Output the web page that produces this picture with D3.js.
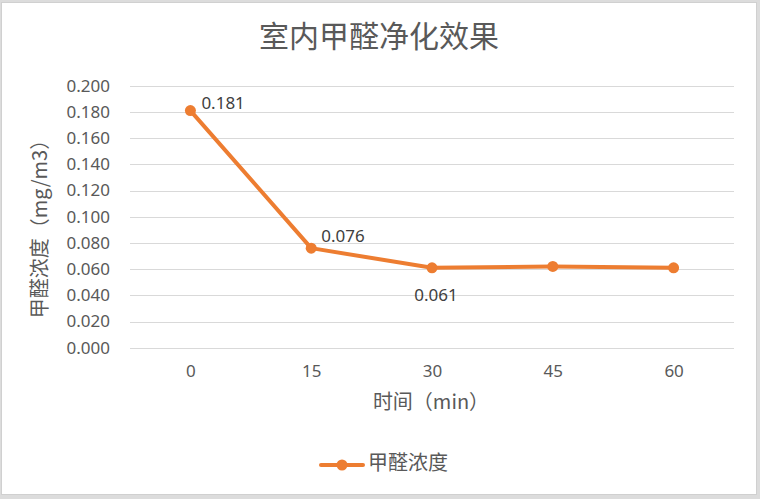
<!DOCTYPE html>
<html><head><meta charset="utf-8">
<script src="https://cdn.jsdelivr.net/npm/d3@7"></script>
<style>
html,body{margin:0;padding:0;background:#dcdcdc;}
svg{display:block;}
</style></head>
<body>
<script>
const categories = ["0", "15", "30", "45", "60"];
const values = [0.181, 0.076, 0.061, 0.062, 0.061];
const yTicks = [0, 0.02, 0.04, 0.06, 0.08, 0.10, 0.12, 0.14, 0.16, 0.18, 0.20];
const seriesName = "甲醛浓度";
const title = "室内甲醛净化效果";
const xTitle = "时间（min）";
const yTitle = "甲醛浓度（mg/m3）";
const labeledIdx = [0, 1, 2];

const W = 760, H = 499;
const color = "#ED7D31";
const font = "'Noto Sans', 'Noto Sans CJK SC', sans-serif";
const cjk = "'Noto Sans CJK SC', sans-serif";

const svg = d3.select("body").append("svg").attr("width", W).attr("height", H);
svg.append("rect").attr("x", 1.5).attr("y", 2.5).attr("width", 755).attr("height", 492)
  .attr("fill", "#fff").attr("stroke", "#d0d0d0").attr("stroke-width", 1);

const plot = {left: 130, right: 734, top: 85.7, bottom: 347.7};
const x = d3.scalePoint().domain(categories).range([plot.left, plot.right]).padding(0.5);
const y = d3.scaleLinear().domain([0, 0.2]).range([plot.bottom, plot.top]);

// gridlines
svg.append("g").selectAll("line").data(yTicks).join("line")
  .attr("x1", plot.left).attr("x2", plot.right)
  .attr("y1", d => Math.round(y(d)) + 0.5).attr("y2", d => Math.round(y(d)) + 0.5)
  .attr("stroke", "#d9d9d9").attr("stroke-width", 1);

// y axis labels
const yAxis = d3.axisLeft(y).tickValues(yTicks).tickFormat(d3.format(".3f")).tickSize(0).tickPadding(20);
const gy = svg.append("g").attr("transform", `translate(${plot.left},0)`).call(yAxis);
gy.select(".domain").remove();
gy.selectAll("text").attr("font-family", font).attr("font-size", 17).attr("fill", "#595959");

// x axis labels
const xAxis = d3.axisBottom(x).tickSize(0).tickPadding(17);
const gx = svg.append("g").attr("transform", `translate(0,${plot.bottom})`).call(xAxis);
gx.select(".domain").remove();
gx.selectAll("text").attr("font-family", font).attr("font-size", 17).attr("fill", "#595959");

// line
const pts = categories.map((c, i) => ({c, v: values[i], i}));
svg.append("path").datum(pts)
  .attr("d", d3.line().x(d => x(d.c)).y(d => y(d.v)))
  .attr("fill", "none").attr("stroke", color).attr("stroke-width", 4).attr("stroke-linejoin", "round").attr("stroke-linecap", "round");
svg.append("g").selectAll("circle").data(pts).join("circle")
  .attr("cx", d => x(d.c)).attr("cy", d => y(d.v)).attr("r", 5.5).attr("fill", color);

// data labels
const placement = {0: {dx: 11, dy: -6, anchor: "start"}, 1: {dx: 10, dy: -11, anchor: "start"}, 2: {dx: 4, dy: 29, anchor: "middle"}};
svg.append("g").selectAll("text").data(labeledIdx.map(i => pts[i])).join("text")
  .attr("x", d => x(d.c) + placement[d.i].dx)
  .attr("y", d => y(d.v) + placement[d.i].dy)
  .attr("text-anchor", d => placement[d.i].anchor)
  .attr("dominant-baseline", "middle")
  .attr("font-family", font).attr("font-size", 17).attr("fill", "#404040")
  .text(d => d3.format(".3f")(d.v));

// title
svg.append("text").attr("x", 379).attr("y", 39).attr("text-anchor", "middle").attr("dominant-baseline", "middle")
  .attr("font-family", cjk).attr("font-size", 30).attr("fill", "#595959").text(title);

// axis titles
svg.append("text").attr("x", (plot.left + plot.right) / 2 - 1).attr("y", 404).attr("text-anchor", "middle").attr("dominant-baseline", "middle")
  .attr("font-family", cjk).attr("font-size", 20).attr("fill", "#595959").text(xTitle);
svg.append("text").attr("transform", `translate(42,224) rotate(-90)`)
  .attr("text-anchor", "middle").attr("dominant-baseline", "middle")
  .attr("font-family", cjk).attr("font-size", 20).attr("fill", "#595959").text(yTitle);

// legend
const lg = svg.append("g").attr("transform", "translate(319,465)");
lg.append("line").attr("x1", 2).attr("x2", 44).attr("y1", 0).attr("y2", 0).attr("stroke", color).attr("stroke-width", 4).attr("stroke-linecap", "round");
lg.append("circle").attr("cx", 23).attr("cy", 0).attr("r", 5.5).attr("fill", color);
lg.append("text").attr("x", 49).attr("y", 0).attr("dominant-baseline", "middle")
  .attr("font-family", cjk).attr("font-size", 20).attr("fill", "#595959").text(seriesName);
</script>
</body></html>
